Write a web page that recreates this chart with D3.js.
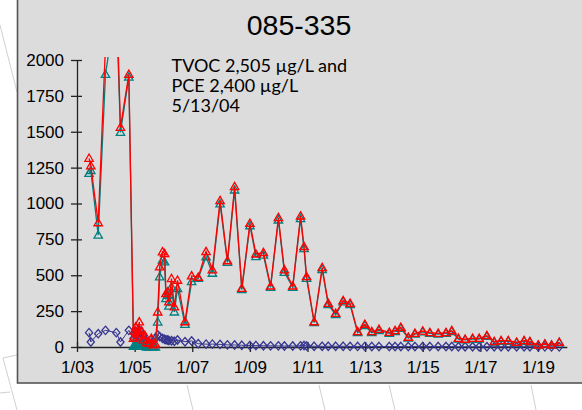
<!DOCTYPE html>
<html><head><meta charset="utf-8">
<script src="https://cdn.jsdelivr.net/npm/d3@7"></script>
<style>html,body{margin:0;padding:0;background:#fff;}svg{display:block;}</style>
</head><body>
<svg id="c" width="582" height="410"></svg>
<script>
const title = "085-335";
const annotation = ["TVOC 2,505 µg/L and", "PCE 2,400 µg/L", "5/13/04"];

const dates = [
 "2003-06-03","2003-06-25","2003-09-27","2003-12-28","2004-05-13","2004-07-05","2004-10-19",
 "2004-12-17","2005-01-01","2005-01-15","2005-01-30","2005-02-14","2005-02-28","2005-03-14",
 "2005-04-01","2005-04-20","2005-05-12","2005-06-03","2005-07-02","2005-07-31","2005-08-26",
 "2005-09-21","2005-10-20","2005-11-14","2005-12-20","2006-01-15","2006-02-02","2006-02-24",
 "2006-03-11","2006-04-13","2006-05-19","2006-06-28","2006-10-01","2006-12-24","2007-03-18",
 "2007-06-25","2007-09-13","2007-12-20","2008-03-22","2008-06-21","2008-09-20","2009-01-01",
 "2009-03-18","2009-06-21","2009-09-20","2009-12-28","2010-03-14","2010-06-28","2010-10-05",
 "2010-11-18","2010-12-20","2011-03-26","2011-07-06","2011-09-21","2011-12-24","2012-03-28",
 "2012-06-24","2012-09-27","2012-12-28","2013-03-26","2013-06-25","2013-11-03","2014-01-15",
 "2014-03-29","2014-07-02","2014-09-24","2015-01-01","2015-04-01","2015-07-16","2015-10-23",
 "2016-01-04","2016-03-28","2016-06-21","2016-09-24","2016-12-16","2017-03-24","2017-06-25",
 "2017-09-20","2017-12-20","2018-04-05","2018-07-09","2018-09-20","2019-01-04","2019-03-29",
 "2019-06-21","2019-09-27"
];
const tvoc = [
 1315,1262,866,2100,2505,1530,1900,
 60,110,140,70,120,175,90,
 110,50,80,30,25,60,15,
 20,244,558,663,651,372,384,
 314,477,279,465,176,495,486,
 664,537,1020,601,1117,409,862,
 648,657,425,901,537,425,913,
 699,490,176,553,304,235,323,
 304,107,158,107,123,102,114,
 137,68,95,111,100,95,100,
 114,60,54,60,60,79,37,
 44,44,33,44,37,14,21,
 14,33
];
const pce = [
 1210,1230,780,1900,2400,1495,1880,
 5,10,20,5,15,20,10,
 10,5,10,0,0,5,0,
 0,174,488,605,593,337,360,
 285,419,244,407,158,455,478,
 629,514,997,590,1094,400,845,
 630,640,415,885,520,415,895,
 685,478,170,540,295,225,315,
 295,100,150,100,115,95,108,
 130,62,90,105,95,90,95,
 108,55,50,55,55,74,34,
 40,40,30,40,34,12,18,
 12,30
];
const tce = [
 100,35,93,116,100,35,116,
 60,90,110,80,100,70,110,
 60,80,50,40,30,50,40,
 60,84,72,60,54,50,49,
 45,44,40,49,37,42,23,
 20,20,18,15,14,12,10,
 10,9,8,8,7,7,8,
 10,8,5,5,5,5,5,
 4,4,4,3,3,3,3,
 3,3,3,3,3,3,3,
 3,2,2,2,2,2,2,
 2,2,2,2,2,1,1,
 1,1
];
const yTicks = [0,250,500,750,1000,1250,1500,1750,2000];
const xTickDates = ["2003-01-01","2005-01-01","2007-01-01","2009-01-01","2011-01-01","2013-01-01","2015-01-01","2017-01-01","2019-01-01"];
const xTickLabels = ["1/03","1/05","1/07","1/09","1/11","1/13","1/15","1/17","1/19"];

const parse = d3.timeParse("%Y-%m-%d");
const svg = d3.select("#c");

// faint background lines outside the panel
const bg = [[0,25,17,92],[3,358,17,355],[3,358,17,410],[0,393,10,392],[187,385,193,410],[319,385,325,410],[389,385,395,410],[531,385,536,410]];
svg.selectAll("line.bg").data(bg).join("line").attr("class","bg")
  .attr("x1",d=>d[0]).attr("y1",d=>d[1]).attr("x2",d=>d[2]).attr("y2",d=>d[3])
  .attr("stroke","#c4c4c4").attr("stroke-width",0.8);

// panel
svg.append("rect").attr("x",17.5).attr("y",-5).attr("width",600).attr("height",388)
  .attr("fill","#dcdcdc").attr("stroke","#555").attr("stroke-width",1.6);

const x = d3.scaleTime().domain([parse("2003-01-01"), parse("2020-01-01")]).range([77, 566.8]);
const y = d3.scaleLinear().domain([0,2000]).range([347,60]);

svg.append("text").attr("x",299).attr("y",35).attr("text-anchor","middle")
  .attr("font-family","Liberation Sans, Arial, sans-serif").attr("font-size",28.5).attr("fill","#000").text(title);

const ann = svg.append("text").attr("font-family","Lato, sans-serif").attr("font-size",18).attr("fill","#000");
annotation.forEach((t,i)=>ann.append("tspan").attr("x",171.5).attr("y",72+i*20).text(t));

// axes
const yAx = svg.append("g").attr("transform","translate(77,0)")
  .call(d3.axisLeft(y).tickValues(yTicks).tickSizeInner(6).tickSizeOuter(0).tickPadding(7).tickFormat(d3.format("d")));
yAx.selectAll(".tick line").attr("x1",-6).attr("x2",5);
const xAx = svg.append("g").attr("transform","translate(0,347)")
  .call(d3.axisBottom(x).tickValues(xTickDates.map(parse)).tickSizeInner(6).tickSizeOuter(0).tickPadding(7.5)
    .tickFormat((d,i)=>xTickLabels[i]));
xAx.selectAll(".tick line").attr("y1",-5).attr("y2",5);
[yAx,xAx].forEach(g=>{
  g.select(".domain").attr("stroke","#222").attr("stroke-width",1.3);
  g.selectAll(".tick line").attr("stroke","#222").attr("stroke-width",1.3);
  g.selectAll("text").attr("font-family","Liberation Sans, Arial, sans-serif").attr("font-size",17).attr("fill","#000");
});

// clip
svg.append("clipPath").attr("id","pc").append("rect").attr("x",60).attr("y",57).attr("width",520).attr("height",310);
const plot = svg.append("g").attr("clip-path","url(#pc)");

const pts = (vals)=>dates.map((d,i)=>({d:parse(d), v:vals[i]}));
const line = d3.line().x(p=>x(p.d)).y(p=>y(p.v));
const tri = "M0,-4.3L4.2,3L-4.2,3Z";
const dia = "M0,-4.2L3.6,0L0,4.2L-3.6,0Z";

const series = [
  {vals:tce, color:"#363690", lw:1, marker:dia},
  {vals:pce, color:"#008080", lw:1.3, marker:tri},
  {vals:tvoc, color:"#ff0000", lw:1.3, marker:tri}
];
series.forEach(s=>{
  const p = pts(s.vals);
  plot.append("path").datum(p).attr("d",line).attr("fill","none").attr("stroke",s.color).attr("stroke-width",s.lw);
  plot.append("g").selectAll("path").data(p).join("path")
    .attr("transform",q=>`translate(${x(q.d)},${y(q.v)})`)
    .attr("d",s.marker).attr("fill","none").attr("stroke",s.color).attr("stroke-width",1.3);
});
</script>
</body></html>
